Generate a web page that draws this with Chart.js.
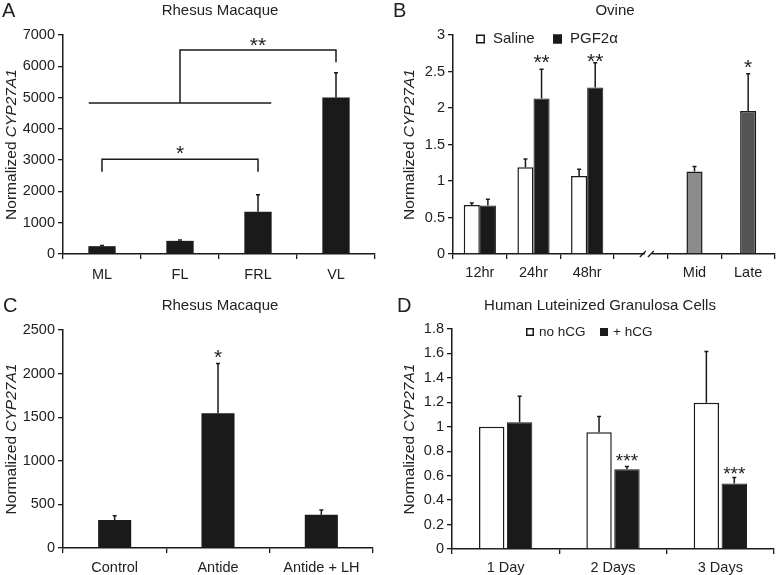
<!DOCTYPE html>
<html><head><meta charset="utf-8">
<script src="https://cdn.jsdelivr.net/npm/chart.js@4.4.0/dist/chart.umd.min.js"></script>
<style>
html,body{margin:0;padding:0;background:#fff;}
#wrap{position:relative;width:777px;height:575px;overflow:hidden;background:#fff;}
canvas{position:absolute;display:block;}
</style></head><body>
<div id="wrap">
<canvas id="cA" width="388" height="290" style="left:0;top:0"></canvas>
<canvas id="cB" width="389" height="290" style="left:388px;top:0"></canvas>
<canvas id="cC" width="388" height="285" style="left:0;top:290px"></canvas>
<canvas id="cD" width="389" height="285" style="left:388px;top:290px"></canvas>
</div>
<script>
// ---------- Panel A: Rhesus Macaque (luteal stages) ----------
const aCategories = ['ML', 'FL', 'FRL', 'VL'];
const aValues = [250, 420, 1350, 5000];
const aErrors = [25, 30, 540, 790];
const aTicks = [0, 1000, 2000, 3000, 4000, 5000, 6000, 7000];
const aGroupLine = {from: -0.17, to: 2.17, y: 4830};
const aTopBracket = {from: 1, to: 3, y: 6520, leftDrop: 4830, rightDrop: 6130, label: '**', labelAt: 2, labelY: 6840};
const aLowBracket = {from: 0, to: 2, y: 3030, leftDrop: 2630, rightDrop: 2630, label: '*', labelAt: 1, labelY: 3380};

// ---------- Panel B: Ovine ----------
const bCategories = ['12hr', '24hr', '48hr', '', 'Mid', 'Late'];
const bSaline    = [0.67, 1.19, 1.07, null, null, null];
const bSalineErr = [0.03, 0.11, 0.09, null, null, null];
const bPGF       = [0.665, 2.13, 2.28, null, null, null];
const bPGFErr    = [0.085, 0.40, 0.34, null, null, null];
const bStage     = [null, null, null, null, 1.13, 1.96];
const bStageErr  = [null, null, null, null, 0.07, 0.51];
const bTicks = [0, 0.5, 1, 1.5, 2, 2.5, 3];
const bStars = [
  {ds: 1, idx: 1, y: 2.69, text: '**'},
  {ds: 1, idx: 2, y: 2.71, text: '**'},
  {ds: 2, idx: 5, y: 2.62, text: '*'}
];

// ---------- Panel C: Rhesus Macaque (Antide) ----------
const cCategories = ['Control', 'Antide', 'Antide + LH'];
const cValues = [320, 1545, 382];
const cErrors = [50, 570, 55];
const cTicks = [0, 500, 1000, 1500, 2000, 2500];
const cStars = [{ds: 0, idx: 1, y: 2240, text: '*'}];

// ---------- Panel D: Human Luteinized Granulosa Cells ----------
const dCategories = ['1 Day', '2 Days', '3 Days'];
const dNoHCG    = [1.0, 0.955, 1.197];
const dNoHCGErr = [0, 0.13, 0.418];
const dHCG      = [1.038, 0.653, 0.535];
const dHCGErr   = [0.212, 0.022, 0.05];
const dTicks = [0, 0.2, 0.4, 0.6, 0.8, 1, 1.2, 1.4, 1.6, 1.8];
const dStars = [
  {ds: 1, idx: 1, y: 0.755, text: '***'},
  {ds: 1, idx: 2, y: 0.648, text: '***'}
];

const FONT = '"Liberation Sans", Arial, Helvetica, sans-serif';
const INK = '#1a1a1a';
const TXT = '#222';

function errorPlugin(errs) {
  return {
    id: 'errbars',
    afterDatasetsDraw(chart) {
      const ctx = chart.ctx, ys = chart.scales.y;
      ctx.save();
      ctx.strokeStyle = INK; ctx.lineWidth = 1.5;
      chart.data.datasets.forEach((ds, i) => {
        const e = errs[i]; if (!e) return;
        chart.getDatasetMeta(i).data.forEach((bar, j) => {
          const v = ds.data[j], err = e[j];
          if (v == null || !err) return;
          const top = ys.getPixelForValue(v + err);
          ctx.beginPath();
          ctx.moveTo(bar.x, bar.y); ctx.lineTo(bar.x, top);
          ctx.moveTo(bar.x - 2, top); ctx.lineTo(bar.x + 2, top);
          ctx.stroke();
        });
      });
      ctx.restore();
    }
  };
}

function decorPlugin(d) {
  return {
    id: 'decor',
    afterDraw(chart) {
      const ctx = chart.ctx, ca = chart.chartArea;
      const xs = chart.scales.x, ys = chart.scales.y;
      ctx.save();
      ctx.fillStyle = TXT; ctx.strokeStyle = INK;
      ctx.textBaseline = 'middle';
      ctx.font = '20px ' + FONT; ctx.textAlign = 'left';
      ctx.fillText(d.letter, d.letterX, d.headY);
      ctx.font = '15px ' + FONT; ctx.textAlign = 'center';
      ctx.fillText(d.title, d.titleX, d.headY);
      // y-axis title with italic gene name
      ctx.save();
      ctx.translate(d.yLabelX, (ca.top + ca.bottom) / 2);
      ctx.rotate(-Math.PI / 2);
      const f1 = '15.5px ' + FONT, f2 = 'italic 15.5px ' + FONT;
      ctx.font = f1; const w1 = ctx.measureText('Normalized ').width;
      ctx.font = f2; const w2 = ctx.measureText('CYP27A1').width;
      const x0 = -(w1 + w2) / 2;
      ctx.textAlign = 'left';
      ctx.font = f1; ctx.fillText('Normalized ', x0, 0);
      ctx.font = f2; ctx.fillText('CYP27A1', x0 + w1, 0);
      ctx.restore();
      // legend
      if (d.legend) {
        ctx.font = d.legendFont + 'px ' + FONT; ctx.textAlign = 'left';
        d.legend.forEach(it => {
          const s = d.legendBox;
          ctx.fillStyle = it.fill;
          ctx.fillRect(it.x, d.legendY - s / 2, s, s);
          ctx.lineWidth = 1.5; ctx.strokeStyle = INK;
          ctx.strokeRect(it.x + 0.75, d.legendY - s / 2 + 0.75, s - 1.5, s - 1.5);
          ctx.fillStyle = TXT;
          ctx.fillText(it.text, it.tx, d.legendY);
        });
      }
      // stars
      if (d.stars) {
        ctx.font = d.starFont + 'px ' + FONT; ctx.textAlign = 'center';
        ctx.textBaseline = 'alphabetic'; ctx.fillStyle = TXT;
        d.stars.forEach(s => {
          const x = chart.getDatasetMeta(s.ds).data[s.idx].x;
          const y = ys.getPixelForValue(s.y);
          ctx.fillText(s.text, x, y + d.starFont * 0.55);
        });
      }
      // axis break
      if (d.breakAt != null) {
        const bx = xs.getPixelForValue(d.breakAt), by = ca.bottom;
        ctx.fillStyle = '#fff';
        ctx.fillRect(bx - 4, by - 2, 7, 4);
        ctx.lineWidth = 1.3; ctx.strokeStyle = INK;
        ctx.beginPath();
        ctx.moveTo(bx - 9, by + 3); ctx.lineTo(bx - 3, by - 3);
        ctx.moveTo(bx - 1, by + 3); ctx.lineTo(bx + 5, by - 3);
        ctx.stroke();
      }
      // brackets (panel A)
      if (d.brackets) {
        ctx.lineWidth = 1.5; ctx.strokeStyle = INK;
        const px = v => xs.getPixelForValue(v), py = v => ys.getPixelForValue(v);
        if (d.groupLine) {
          ctx.beginPath();
          ctx.moveTo(px(d.groupLine.from), py(d.groupLine.y));
          ctx.lineTo(px(d.groupLine.to), py(d.groupLine.y));
          ctx.stroke();
        }
        d.brackets.forEach(b => {
          ctx.beginPath();
          ctx.moveTo(px(b.from), py(b.leftDrop));
          ctx.lineTo(px(b.from), py(b.y));
          ctx.lineTo(px(b.to), py(b.y));
          ctx.lineTo(px(b.to), py(b.rightDrop));
          ctx.stroke();
          ctx.font = d.starFont + 'px ' + FONT; ctx.textAlign = 'center';
          ctx.textBaseline = 'alphabetic'; ctx.fillStyle = TXT;
          ctx.fillText(b.label, px(b.labelAt), py(b.labelY) + d.starFont * 0.55);
        });
      }
      ctx.restore();
    }
  };
}

function axes(ticksArr, yWidth, xHeight, xPad) {
  return {
    x: {
      type: 'category', offset: true,
      grid: {display: true, drawOnChartArea: false, drawTicks: true, tickLength: 5, color: INK, lineWidth: 1.3, offset: true},
      border: {display: true, color: INK, width: 1.5},
      ticks: {color: TXT, font: {family: FONT, size: 14.5}, padding: xPad, maxRotation: 0, autoSkip: false},
      afterFit: s => { s.height = xHeight; }
    },
    y: {
      type: 'linear', min: ticksArr[0], max: ticksArr[ticksArr.length - 1],
      afterBuildTicks: s => { s.ticks = ticksArr.map(v => ({value: v})); },
      grid: {display: true, drawOnChartArea: false, drawTicks: true, tickLength: 5, color: INK, lineWidth: 1.3},
      border: {display: true, color: INK, width: 1.5},
      ticks: {color: TXT, font: {family: FONT, size: 14.5}, padding: 3, callback: v => String(v)},
      afterFit: s => { s.width = yWidth; }
    }
  };
}

function baseOptions(pad, sc) {
  return {
    responsive: false, animation: false,
    layout: {padding: pad},
    plugins: {legend: {display: false}, tooltip: {enabled: false}, title: {display: false}},
    scales: sc
  };
}

// Panel A
new Chart(document.getElementById('cA'), {
  type: 'bar',
  data: {labels: aCategories, datasets: [{
    data: aValues, backgroundColor: INK, borderColor: INK, borderWidth: 0,
    categoryPercentage: 0.35, barPercentage: 1
  }]},
  options: baseOptions({top: 35, right: 13, left: 0, bottom: 0}, axes(aTicks, 63, 36, 7)),
  plugins: [errorPlugin([aErrors]), decorPlugin({
    letter: 'A', letterX: 2, headY: 11, title: 'Rhesus Macaque', titleX: 220, yLabelX: 12,
    starFont: 21, groupLine: aGroupLine, brackets: [aTopBracket, aLowBracket]
  })]
});

// Panel B
new Chart(document.getElementById('cB'), {
  type: 'bar',
  data: {labels: bCategories, datasets: [
    {data: bSaline, backgroundColor: '#ffffff', borderColor: INK, borderWidth: 1.5,
     categoryPercentage: 0.6, barPercentage: 1, skipNull: true},
    {data: bPGF, backgroundColor: INK, borderColor: INK, borderWidth: 1,
     categoryPercentage: 0.6, barPercentage: 1, skipNull: true},
    {data: bStage, backgroundColor: ['#fff', '#fff', '#fff', '#fff', '#8c8c8c', '#555555'],
     borderColor: INK, borderWidth: 1.5, categoryPercentage: 0.6, barPercentage: 0.5, skipNull: true}
  ]},
  options: baseOptions({top: 35, right: 2, left: 0, bottom: 0}, axes(bTicks, 65, 36, 5)),
  plugins: [errorPlugin([bSalineErr, bPGFErr, bStageErr]), decorPlugin({
    letter: 'B', letterX: 5, headY: 11, title: 'Ovine', titleX: 227, yLabelX: 22,
    legend: [
      {x: 88, tx: 105, text: 'Saline', fill: '#fff'},
      {x: 165, tx: 182, text: 'PGF2\u03b1', fill: INK}
    ], legendY: 39, legendBox: 9, legendFont: 15,
    stars: bStars, starFont: 21, breakAt: 3.15
  })]
});

// Panel C
new Chart(document.getElementById('cC'), {
  type: 'bar',
  data: {labels: cCategories, datasets: [{
    data: cValues, backgroundColor: INK, borderColor: INK, borderWidth: 0,
    categoryPercentage: 0.32, barPercentage: 1
  }]},
  options: baseOptions({top: 40, right: 15, left: 0, bottom: 0}, axes(cTicks, 63, 27, 6)),
  plugins: [errorPlugin([cErrors]), decorPlugin({
    letter: 'C', letterX: 3, headY: 16, title: 'Rhesus Macaque', titleX: 220, yLabelX: 12,
    stars: cStars, starFont: 21
  })]
});

// Panel D
new Chart(document.getElementById('cD'), {
  type: 'bar',
  data: {labels: dCategories, datasets: [
    {data: dNoHCG, backgroundColor: '#ffffff', borderColor: INK, borderWidth: 1.5,
     categoryPercentage: 0.52, barPercentage: 0.91},
    {data: dHCG, backgroundColor: INK, borderColor: INK, borderWidth: 1,
     categoryPercentage: 0.52, barPercentage: 0.91}
  ]},
  options: baseOptions({top: 39, right: 3, left: 0, bottom: 0}, axes(dTicks, 64, 26, 5)),
  plugins: [errorPlugin([dNoHCGErr, dHCGErr]), decorPlugin({
    letter: 'D', letterX: 9, headY: 16, title: 'Human Luteinized Granulosa Cells', titleX: 212, yLabelX: 22,
    legend: [
      {x: 138, tx: 151, text: 'no hCG', fill: '#fff'},
      {x: 212, tx: 225, text: '+ hCG', fill: INK}
    ], legendY: 42, legendBox: 8, legendFont: 13.5,
    stars: dStars, starFont: 19
  })]
});
</script>
</body></html>
